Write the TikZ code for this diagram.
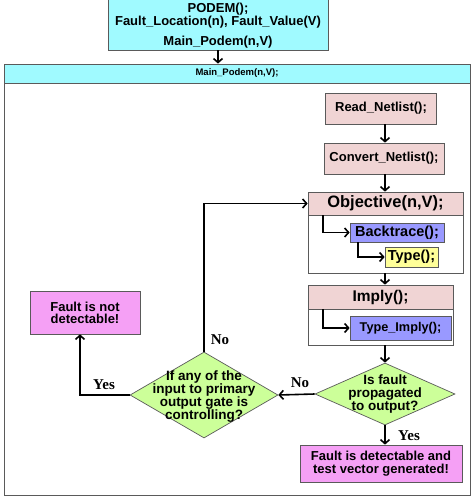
\documentclass[tikz,border=0pt]{standalone}
\usepackage{fontspec}
\setmainfont{Liberation Sans}
\newfontfamily\lserif{Liberation Serif}
\usetikzlibrary{arrows.meta,shapes.geometric}
\definecolor{cyanbox}{RGB}{160,250,255}
\definecolor{pinkbox}{RGB}{240,212,212}
\definecolor{bluebox}{RGB}{153,153,255}
\definecolor{yellowbox}{RGB}{255,255,153}
\definecolor{greenbox}{RGB}{204,255,153}
\definecolor{magbox}{RGB}{245,160,245}
\definecolor{edge}{RGB}{90,90,90}
\begin{document}
\begin{tikzpicture}[x=1pt,y=-1pt,
  box/.style={draw=edge, line width=0.7pt, inner sep=0pt, align=center, font=\bfseries\fontsize{13}{12}\selectfont},
  txt/.style={inner sep=0pt, align=center, font=\bfseries\fontsize{13}{12}\selectfont},
  dtxt/.style={inner sep=0pt, align=center, font=\bfseries\fontsize{13.5}{12.8}\selectfont},
  arr/.style={line width=1.6pt, -{Straight Barb[length=4pt,width=9pt]}},
  lab/.style={inner sep=0pt, font=\lserif\bfseries\fontsize{15}{16}\selectfont},
  dia/.style={diamond, draw=edge, fill=greenbox, line width=0.7pt, inner sep=0pt}]
\useasboundingbox[fill=white] (0,0) rectangle (474,498);
% top box
\node[box, fill=cyanbox, minimum width=220pt, minimum height=52pt] (podem) at (218,24) {};
\node[txt] (podemt) at (218,25.5) {PODEM();\\Fault\_Location(n), Fault\_Value(V)\\[7pt]Main\_Podem(n,V)};
% main frame
\node[draw=edge, line width=0.8pt, minimum width=466pt, minimum height=431pt] (main) at (237,279.5) {};
\node[draw=edge, line width=0.8pt, fill=cyanbox, minimum width=466pt, minimum height=19pt, inner sep=0pt, font=\bfseries\fontsize{9.5}{10}\selectfont] (mainh) at (237,73.5) {Main\_Podem(n,V);};
\draw[arr] (podem.south) -- (podem.south |- mainh.north);
\coordinate (colx) at (385,0);
% column
\node[box, fill=pinkbox, minimum width=111pt, minimum height=31pt] (read) at (381,108.5) {Read\_Netlist();};
\node[box, fill=pinkbox, minimum width=120pt, minimum height=31pt] (conv) at (384,158.5) {Convert\_Netlist();};
\draw[arr] (read.south -| colx) -- (conv.north -| colx);
% objective group
\node[box, fill=white, minimum width=155pt, minimum height=81pt] (obj) at (385.5,232.5) {};
\node[box, fill=pinkbox, minimum width=155pt, minimum height=23pt, font=\bfseries\fontsize{16.5}{16}\selectfont] (objh) at (385.5,203.5) {Objective(n,V);};
\draw[arr] (conv.south -| colx) -- (objh.north -| colx);
\node[box, fill=bluebox, minimum width=94pt, minimum height=19pt, font=\bfseries\fontsize{14.5}{14}\selectfont] (bt) at (397,232.5) {Backtrace();};
\node[box, fill=yellowbox, minimum width=53pt, minimum height=20pt, font=\bfseries\fontsize{14.5}{14}\selectfont] (ty) at (411.5,257) {Type();};
\draw[arr] ([xshift=-62.5pt]objh.south) |- (bt.west);
\draw[arr] ([xshift=-39pt]bt.south) |- (ty.west);
% imply group
\node[box, fill=white, minimum width=145pt, minimum height=60pt] (imp) at (380.5,315) {};
\node[box, fill=pinkbox, minimum width=145pt, minimum height=24pt, font=\bfseries\fontsize{15.5}{15}\selectfont] (imph) at (380.5,297) {Imply();};
\draw[arr] (obj.south -| colx) -- (imph.north -| colx);
\node[box, fill=bluebox, minimum width=101pt, minimum height=24pt, font=\bfseries\fontsize{12.7}{12}\selectfont] (ti) at (400.5,328) {Type\_Imply();};
\draw[arr] ([xshift=-57.5pt]imph.south) |- (ti.west);
% decision 1
\node[dia, minimum width=140pt, minimum height=62pt] (d1) at (385,394) {};
\node[dtxt] (d1t) at (385,394) {Is fault\\propagated\\to output?};
\draw[arr] (imp.south -| colx) -- (d1.north);
% final box
\node[box, fill=magbox, minimum width=162pt, minimum height=37pt, font=\bfseries\fontsize{13}{13}\selectfont] (fin) at (381,463.5) {Fault is detectable and\\test vector generated!};
\draw[arr] (d1.south) -- (d1.south |- fin.north);
\node[lab] (yes1) at (409,436) {Yes};
% decision 2
\node[dia, minimum width=148pt, minimum height=86pt] (d2) at (204,395) {};
\node[dtxt] (d2t) at (204,396.5) {If any of the\\input to primary\\output gate is\\controlling?};
\draw[arr] (d1.west) -- (d2.east);
\node[lab] (no1) at (300,383) {No};
\draw[arr] (d2.north) |- (objh.west);
\node[lab] (no2) at (220,340) {No};
% not detectable
\node[box, fill=magbox, minimum width=110pt, minimum height=43pt] (nd) at (85,312.5) {Fault is not\\detectable!};
\draw[arr] (d2.west) -| ([xshift=-5pt]nd.south);
\node[lab] (yes2) at (104,385) {Yes};
\end{tikzpicture}
\end{document}
